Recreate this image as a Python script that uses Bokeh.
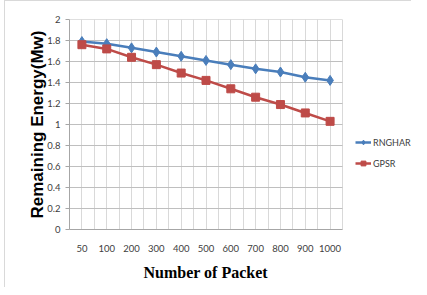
from bokeh.plotting import figure
from bokeh.models import FixedTicker, Legend, LegendItem, Title
from bokeh.embed import file_html
from bokeh.resources import INLINE

packets = ["50", "100", "200", "300", "400", "500", "600", "700", "800", "900", "1000"]
rnghar = [1.79, 1.77, 1.73, 1.69, 1.65, 1.61, 1.57, 1.53, 1.50, 1.45, 1.42]
gpsr = [1.76, 1.72, 1.64, 1.57, 1.49, 1.42, 1.34, 1.26, 1.19, 1.11, 1.03]
y_ticks = [0, 0.2, 0.4, 0.6, 0.8, 1.0, 1.2, 1.4, 1.6, 1.8, 2.0]
y_tick_labels = ["0", "0.2", "0.4", "0.6", "0.8", "1", "1.2", "1.4", "1.6", "1.8", "2"]

xs = list(range(len(packets)))
n = len(packets)

# layout: plot area 273px wide, extra room on the right holds the legend
W, H = 407, 287
left_b, right_b, top_b, bot_b = 64, 0, 18, 59
plot_w = 273
frame_w = W - left_b - right_b
x_end = -0.5 + n * frame_w / plot_w

p = figure(width=W, height=H, x_range=(-0.5, x_end), y_range=(0, 2),
           output_backend="svg", toolbar_location=None,
           min_border_left=left_b, min_border_right=right_b,
           min_border_top=top_b, min_border_bottom=bot_b)
p.styles = {"border-left": "1px solid #d9d9d9", "border-top": "1px solid #d9d9d9",
            "margin-left": "4px"}
p.outline_line_color = None
p.background_fill_color = "white"
p.border_fill_color = "white"

tick_font = "Lato"
p.xaxis.ticker = FixedTicker(ticks=xs, minor_ticks=[i - 0.5 for i in range(n + 1)])
p.xaxis.major_label_overrides = {i: lab for i, lab in enumerate(packets)}
p.xaxis.bounds = (-0.5, n - 0.5)
p.yaxis.ticker = FixedTicker(ticks=y_ticks, minor_ticks=[])
p.yaxis.major_label_overrides = {t: lab for t, lab in zip(y_ticks, y_tick_labels)}

for ax in (p.xaxis[0], p.yaxis[0]):
    ax.axis_line_color = "#a6a6a6"
    ax.major_tick_line_color = "#a6a6a6"
    ax.minor_tick_line_color = None
    ax.major_label_text_font = tick_font
    ax.major_label_text_font_size = "9.5px"
    ax.major_label_text_color = "#404040"
    ax.major_tick_in = 0

p.xaxis.major_tick_out = 0
p.xaxis.major_label_standoff = 11
p.yaxis.major_tick_out = 4
p.yaxis.major_label_standoff = 5

p.yaxis.axis_label = "Remaining Energy(Mw)"
p.yaxis.axis_label_text_font = "Liberation Sans"
p.yaxis.axis_label_text_font_style = "bold"
p.yaxis.axis_label_text_font_size = "17px"
p.yaxis.axis_label_text_color = "#000000"
p.yaxis.axis_label_standoff = -3

xtitle = Title(text="Number of Packet", align="left", offset=74, standoff=15,
               text_font="Liberation Serif", text_font_style="bold",
               text_font_size="16px", text_color="#000000")
p.add_layout(xtitle, "below")

# horizontal grid limited to the plot area
p.ygrid.grid_line_color = None
p.segment(x0=[-0.5] * len(y_ticks), x1=[n - 0.5] * len(y_ticks), y0=y_ticks, y1=y_ticks,
          line_color="#bfbfbf", line_width=1)
p.xgrid.bounds = (-0.5, n - 0.5)
p.xgrid.grid_line_color = "#d9d9d9"
p.xgrid.minor_grid_line_color = "#d9d9d9"

blue = "#4a7ebb"
red = "#be4b48"
l1 = p.line(xs, rnghar, line_color=blue, line_width=2.5)
m1 = p.scatter(xs, rnghar, marker="diamond", size=10, fill_color=blue, line_color=blue)
l2 = p.line(xs, gpsr, line_color=red, line_width=2.5)
m2 = p.scatter(xs, gpsr, marker="square", size=8, fill_color=red, line_color=red)

legend = Legend(items=[LegendItem(label="RNGHAR", renderers=[l1, m1]),
                       LegendItem(label="GPSR", renderers=[l2, m2])],
                location=(plot_w + 13, 60), orientation="vertical",
                padding=0, margin=0, spacing=9, label_height=12, glyph_height=12,
                glyph_width=16, label_standoff=2,
                label_text_font=tick_font, label_text_font_size="9px",
                label_text_color="#404040",
                border_line_color=None, background_fill_alpha=0)
p.add_layout(legend, "center")

open("out.html", "w").write(file_html(p, INLINE))
